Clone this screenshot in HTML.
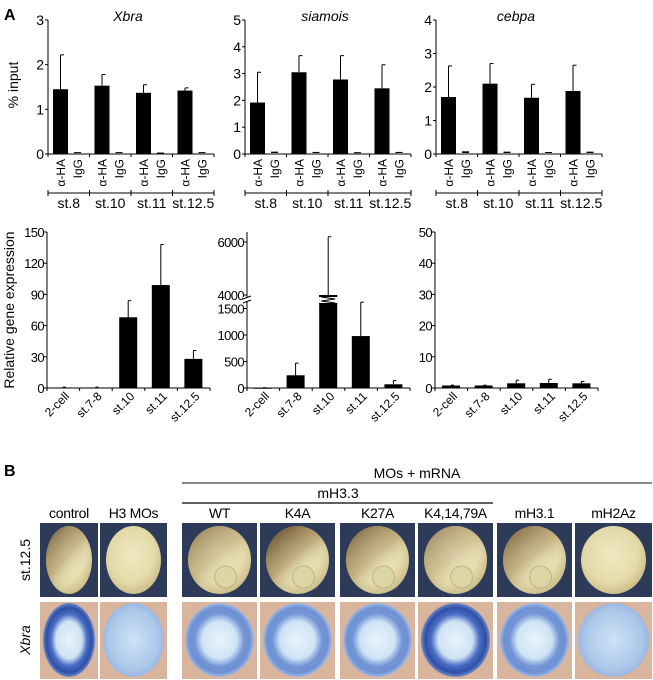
<!DOCTYPE html>
<html><head><meta charset="utf-8">
<style>
html,body{margin:0;padding:0;background:#fff;}
svg{display:block;font-family:"Liberation Sans",Arial,sans-serif;}
</style></head>
<body>
<svg id="fig" width="653" height="680" viewBox="0 0 653 680" xmlns="http://www.w3.org/2000/svg">
<defs>
<radialGradient id="emb" cx="0.45" cy="0.4" r="0.6">
<stop offset="0" stop-color="#f1ebc6"/><stop offset="0.7" stop-color="#e6dcaa"/><stop offset="1" stop-color="#cdbf8c"/></radialGradient>
<linearGradient id="pig" x1="0.1" y1="0" x2="0.9" y2="1">
<stop offset="0" stop-color="#4e3418" stop-opacity="0.9"/><stop offset="0.45" stop-color="#8a6a3c" stop-opacity="0.45"/><stop offset="0.75" stop-color="#fff" stop-opacity="0"/></linearGradient>
<radialGradient id="blueStrong" cx="0.5" cy="0.5" r="0.5">
<stop offset="0" stop-color="#e6f2fb"/><stop offset="0.5" stop-color="#cfe3f5"/><stop offset="0.7" stop-color="#4a6ec4"/><stop offset="0.88" stop-color="#2f4fa6"/><stop offset="1" stop-color="#6f8bcb"/></radialGradient>
<radialGradient id="blueMid" cx="0.5" cy="0.5" r="0.5">
<stop offset="0" stop-color="#e8f3fb"/><stop offset="0.5" stop-color="#d0e4f5"/><stop offset="0.72" stop-color="#7395d6"/><stop offset="0.88" stop-color="#6f90d2"/><stop offset="1" stop-color="#a2bbe2"/></radialGradient>
<radialGradient id="blueWeak" cx="0.5" cy="0.5" r="0.5">
<stop offset="0" stop-color="#cfe2f5"/><stop offset="0.8" stop-color="#abc7ea"/><stop offset="1" stop-color="#9cb8e1"/></radialGradient>
</defs>
<g id="root"></g>
</svg>
<script>
// ---------- Panel A top: ChIP % input ----------
const chipStages = ["st.8","st.10","st.11","st.12.5"];
const xbraHA = [1.45,1.53,1.37,1.42];
const xbraHAErr = [2.22,1.78,1.55,1.48];
const xbraIgG = [0.02,0.02,0.01,0.02];
const siamoisHA = [1.92,3.05,2.78,2.45];
const siamoisHAErr = [3.05,3.67,3.67,3.33];
const siamoisIgG = [0.05,0.04,0.03,0.04];
const cebpaHA = [1.70,2.10,1.68,1.88];
const cebpaHAErr = [2.63,2.70,2.08,2.65];
const cebpaIgG = [0.05,0.04,0.03,0.04];
const xbraTicks = [0,1,2,3];
const siamoisTicks = [0,1,2,3,4,5];
const cebpaTicks = [0,1,2,3,4];

// ---------- Panel A bottom: expression ----------
const exprStages = ["2-cell","st.7-8","st.10","st.11","st.12.5"];
const exprXbra = [0.5,0.5,68,99,28];
const exprXbraErr = [0.8,0.8,84,138,36];
const exprSia = [5,240,4000,980,70];
const exprSiaErr = [5,470,6200,1620,140];
const exprCeb = [0.8,0.8,1.5,1.6,1.5];
const exprCebErr = [0.9,0.9,2.5,2.8,2.1];
const exprXbraTicks = [0,30,60,90,120,150];
const exprSiaLowTicks = [0,500,1000,1500];
const exprSiaHighTicks = [4000,6000];
const exprCebTicks = [0,10,20,30,40,50];

// ---------- Panel B ----------
const bCols = ["control","H3 MOs","WT","K4A","K27A","K4,14,79A","mH3.1","mH2Az"];

const NS="http://www.w3.org/2000/svg";
const root=document.getElementById('root');
function el(tag,attrs,parent){const e=document.createElementNS(NS,tag);for(const k in attrs)e.setAttribute(k,attrs[k]);(parent||root).appendChild(e);return e;}
function txt(s,attrs,parent){const e=el('text',attrs,parent);e.textContent=s;return e;}

let t=txt("A",{x:4,y:20,"font-size":16,"font-weight":"bold"});


t=txt("B",{x:4,y:476,"font-size":16,"font-weight":"bold"});



t=txt("% input",{x:0,y:0,"font-size":14,"text-anchor":"middle",transform:"translate(18,85) rotate(-90)"});


t=txt("Relative gene expression",{x:0,y:0,"font-size":14,"text-anchor":"middle",transform:"translate(14,310) rotate(-90)"});



function chipChart(name,x0,title,ha,err,igg,ticks){
  const g=el('g',{});
  
  
  const yTop=20,yBot=154,max=ticks[ticks.length-1];
  const y=v=>yBot-(v/max)*(yBot-yTop);
  const gw=41.5, xEnd=x0+gw*4;
  el('line',{x1:x0,y1:yTop,x2:x0,y2:yBot,stroke:"#000","stroke-width":1},g);
  el('line',{x1:x0,y1:yBot,x2:xEnd,y2:yBot,stroke:"#000","stroke-width":1},g);
  ticks.forEach(v=>{
    el('line',{x1:x0-3,y1:y(v),x2:x0,y2:y(v),stroke:"#000"},g);
    const tt=txt(String(v),{x:x0-4,y:y(v)+5,"font-size":14,"text-anchor":"end"},g);
    
    
  });
  const ti=txt(title,{x:x0+80,y:21,"font-size":14,"font-style":"italic","text-anchor":"middle"},g);
  
  
  for(let i=0;i<=4;i++){el('line',{x1:x0+gw*i,y1:yBot,x2:x0+gw*i,y2:yBot+3,stroke:"#000"},g);}
  ha.forEach((v,i)=>{
    const bx=x0+5+gw*i;
    el('line',{x1:bx+7.5,y1:y(err[i]),x2:bx+7.5,y2:y(v),stroke:"#000","stroke-width":1},g);
    el('line',{x1:bx+7.5,y1:y(err[i]),x2:bx+11,y2:y(err[i]),stroke:"#000"},g);
    const r=el('rect',{x:bx,y:y(v),width:15,height:yBot-y(v),fill:"#000"},g);
    
    
    const ri=el('rect',{x:bx+21,y:y(igg[i])-1,width:7,height:Math.max(1,yBot-y(igg[i])),fill:"#000"},g);
    
    
    const a=txt("α-HA",{x:0,y:0,"font-size":12,"text-anchor":"end",transform:`translate(${bx+12},${yBot+5}) rotate(-90)`},g);
    
    
    const b=txt("IgG",{x:0,y:0,"font-size":12,"text-anchor":"end",transform:`translate(${bx+29},${yBot+5}) rotate(-90)`},g);
    
    
    const s=txt(chipStages[i],{x:x0+gw*i+gw/2,y:208,"font-size":14,"text-anchor":"middle"},g);
    
    
  });
  el('line',{x1:x0,y1:193,x2:xEnd,y2:193,stroke:"#000"},g);
  for(let i=0;i<=4;i++){el('line',{x1:x0+gw*i,y1:190,x2:x0+gw*i,y2:196,stroke:"#000"},g);}
}
chipChart('xbra',48,'Xbra',xbraHA,xbraHAErr,xbraIgG,xbraTicks);
chipChart('siamois',245,'siamois',siamoisHA,siamoisHAErr,siamoisIgG,siamoisTicks);
chipChart('cebpa',436,'cebpa',cebpaHA,cebpaHAErr,cebpaIgG,cebpaTicks);

const GW=32.6, BW=18;
function exprChart(name,x0,vals,errs,yf,ticks){
  const g=el('g',{});
  
  
  const yBot=388, xEnd=x0+GW*5;
  el('line',{x1:x0,y1:232,x2:x0,y2:yBot,stroke:"#000"},g);
  el('line',{x1:x0,y1:yBot,x2:xEnd,y2:yBot,stroke:"#000"},g);
  ticks.forEach(v=>{
    el('line',{x1:x0-3,y1:yf(v),x2:x0,y2:yf(v),stroke:"#000"},g);
    const tt=txt(String(v),{x:x0-3,y:yf(v)+5,"font-size":13,"text-anchor":"end","letter-spacing":"-0.6"},g);
    
    
  });
  for(let i=0;i<=5;i++){el('line',{x1:x0+GW*i,y1:yBot,x2:x0+GW*i,y2:yBot+3,stroke:"#000"},g);}
  vals.forEach((v,i)=>{
    const bx=x0+7+GW*i;
    el('line',{x1:bx+BW/2,y1:yf(errs[i]),x2:bx+BW/2,y2:yf(v),stroke:"#000"},g);
    el('line',{x1:bx+BW/2,y1:yf(errs[i]),x2:bx+BW/2+3,y2:yf(errs[i]),stroke:"#000"},g);
    const r=el('rect',{x:bx,y:yf(v),width:BW,height:Math.max(1,yBot-yf(v)),fill:"#000"},g);
    
    
    const s=txt(exprStages[i],{x:0,y:0,"font-size":12,"text-anchor":"end",transform:`translate(${bx+16},${yBot+9}) rotate(-45)`},g);
    
    
  });
  return g;
}
exprChart('xbra',47,exprXbra,exprXbraErr,v=>388-v/150*156,exprXbraTicks);
const siaY=v=> v<=1700 ? 388-v*(26.5/500) : 295-(v-4000)*(53/2000);
const sg=exprChart('siamois',247,exprSia,exprSiaErr,siaY,exprSiaLowTicks.concat(exprSiaHighTicks));
el('rect',{x:243,y:297,width:8,height:5,fill:"#fff"},sg);
el('line',{x1:243,y1:299,x2:251,y2:296,stroke:"#000"},sg);
el('line',{x1:243,y1:303,x2:251,y2:300,stroke:"#000"},sg);
const bx10=247+7+GW*2;
el('rect',{x:bx10,y:297,width:BW,height:6,fill:"#fff"},sg);
el('line',{x1:bx10,y1:296,x2:bx10+BW,y2:296,stroke:"#000","stroke-width":2},sg);
el('line',{x1:bx10,y1:304,x2:bx10+BW,y2:304,stroke:"#000","stroke-width":2},sg);
el('polyline',{points:`${bx10+2},297 ${bx10+16},299 ${bx10+2},301 ${bx10+16},303`,fill:"none",stroke:"#000"},sg);
exprChart('cebpa',435,exprCeb,exprCebErr,v=>388-v/50*156,exprCebTicks);

// ---------- Panel B ----------
const colX=[40,100,182,260,340,418,497,575];
const colW=[58,67,75,75,75,75,75,77];
t=txt("MOs + mRNA",{x:417,y:478,"font-size":14,"text-anchor":"middle"});


el('line',{x1:182,y1:483,x2:652,y2:483,stroke:"#444","stroke-width":1.2});
t=txt("mH3.3",{x:338,y:498,"font-size":14,"text-anchor":"middle"});


el('line',{x1:182,y1:503,x2:493,y2:503,stroke:"#000","stroke-width":1.2});
t=txt("st.12.5",{x:0,y:0,"font-size":14,"text-anchor":"middle",transform:"translate(30,560) rotate(-90)"});


t=txt("Xbra",{x:0,y:0,"font-size":14,"font-style":"italic","text-anchor":"middle",transform:"translate(30,640) rotate(-90)"});


const pig=[0.8,0.05,0.6,1,0.8,0.55,0.8,0.05];
const blastopore=[0,0,1,1,1,1,1,0];
const blueFill=["blueStrong","blueWeak","blueMid","blueMid","blueMid","blueStrong","blueMid","blueWeak"];
bCols.forEach((c,i)=>{
  const x=colX[i],w=colW[i],cx=x+w/2;
  const lab=txt(c,{x:cx,y:518,"font-size":14,"text-anchor":"middle","letter-spacing":"-0.3"});
  
  
  const g1=el('g',{});
  
  
  el('rect',{x:x,y:523,width:w,height:74,fill:"#2d3b58"},g1);
  el('ellipse',{cx:cx,cy:560,rx:w/2-6,ry:34,fill:"url(#emb)"},g1);
  el('ellipse',{cx:cx,cy:560,rx:w/2-6,ry:34,fill:"url(#pig)","fill-opacity":pig[i]},g1);
  if(blastopore[i]) el('circle',{cx:cx+6,cy:577,r:11,fill:"#dcd5a6",stroke:"#bdb488"},g1);
  const g2=el('g',{});
  
  
  el('rect',{x:x,y:602,width:w,height:77,fill:"#d8b59c"},g2);
  el('ellipse',{cx:cx,cy:640,rx:w/2-3,ry:37,fill:"url(#"+blueFill[i]+")"},g2);
});
</script>
</body></html>
